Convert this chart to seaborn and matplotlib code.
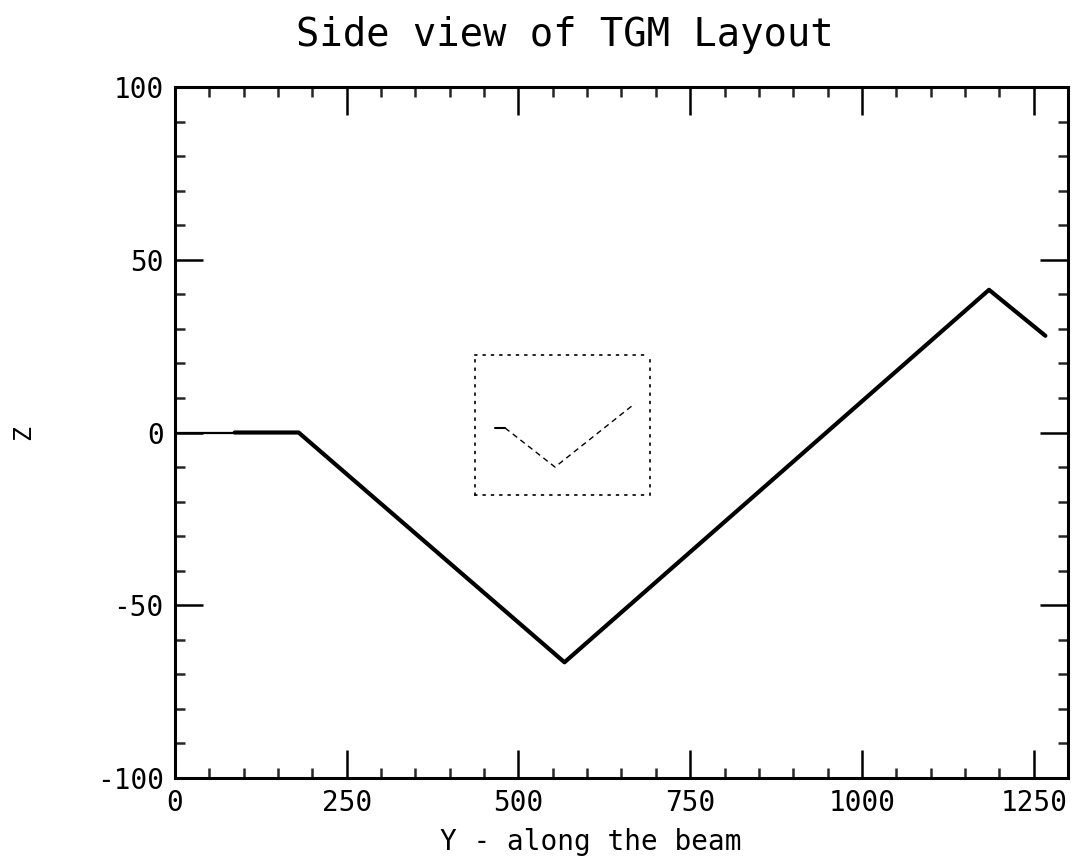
import numpy as np
import pandas as pd
import matplotlib
matplotlib.use("Agg")
import matplotlib.pyplot as plt
import seaborn as sns
from matplotlib.ticker import MultipleLocator

# Data
beam_y = [0, 87, 180, 567, 1185, 1267]
beam_z = [0, 0, 0, -66.5, 41.3, 28]
xticks = [0, 250, 500, 750, 1000, 1250]
yticks = [-100, -50, 0, 50, 100]
title = "Side view of TGM Layout"
xlabel = "Y - along the beam"
ylabel = "Z"

sns.set_theme(style="white")
plt.rcParams['font.family'] = ['DejaVu Sans Mono', 'DejaVu Sans']
plt.rcParams['axes.unicode_minus'] = False

df = pd.DataFrame({"y": beam_y, "z": beam_z})

fig = plt.figure(figsize=(10.76, 8.58), dpi=100)
ax = fig.add_axes([0.1626, 0.0932, 0.830, 0.8054])

# thin leading segment, then thick main trace
sns.lineplot(data=df.iloc[0:2], x="y", y="z", sort=False, ax=ax,
             color="black", linewidth=1.6)
sns.lineplot(data=df.iloc[1:], x="y", y="z", sort=False, ax=ax,
             color="black", linewidth=3.0)

ax.set_xlim(0, 1300)
ax.set_ylim(-100, 100)
ax.set_xticks(xticks)
ax.set_yticks(yticks)
ax.set_xticklabels([str(t) for t in xticks])
ax.set_yticklabels([str(t) for t in yticks])
ax.xaxis.set_minor_locator(MultipleLocator(50))
ax.yaxis.set_minor_locator(MultipleLocator(10))
ax.tick_params(which="major", direction="in", length=20, width=1.8,
               top=True, right=True, bottom=True, left=True,
               labelsize=20, colors="black", pad=8)
ax.tick_params(which="minor", direction="in", length=7, width=1.8,
               top=True, right=True, bottom=True, left=True)
for s in ax.spines.values():
    s.set_visible(True)
    s.set_color("black")
    s.set_linewidth(2.2)

ax.set_xlabel(xlabel, fontsize=20, color="black")
ax.xaxis.set_label_coords(0.466, -0.072)
ax.set_ylabel(ylabel, fontsize=18, color="black")
ax.yaxis.set_label_coords(-0.157, 0.5)
fig.text(565 / 1076, 1 - 35 / 858, title, fontsize=28, color="black",
         ha="center", va="center")

# small ghost inset (scan artefact in the reference)
ins = fig.add_axes([475 / 1076, 1 - 495 / 858, 175 / 1076, 140 / 858])
sns.lineplot(data=df.iloc[2:5], x="y", y="z", sort=False, ax=ins,
             color="black", linewidth=1.0, linestyle=(0, (4, 3)))
ins.plot([102, 180], [0, 0], color="black", linewidth=1.5)
ins.set_xlim(-53, 1303)
ins.set_ylim(-114, 124)
ins.set_xticks([])
ins.set_yticks([])
ins.set_xlabel("")
ins.set_ylabel("")
for s in ins.spines.values():
    s.set_linestyle((0, (1, 4)))
    s.set_linewidth(1.2)
    s.set_color("black")

fig.savefig("out.png", dpi=100)
